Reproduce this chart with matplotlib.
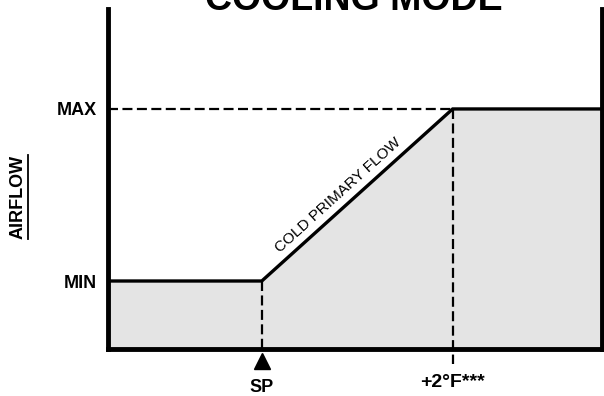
import numpy as np
import matplotlib
matplotlib.use("Agg")
import matplotlib.pyplot as plt
from matplotlib.lines import Line2D

plt.rcParams['font.family'] = ['Liberation Sans', 'DejaVu Sans']

# airflow schedule (percent of axis range)
x_pts = [0, 31.2, 69.8, 100]
airflow = [20, 20, 70.6, 70.6]
min_flow = 20
max_flow = 70.6
sp_x = 31.2
plus2_x = 69.8
ytick_vals = [min_flow, max_flow]
ytick_labels = ['MIN', 'MAX']

fig = plt.figure(figsize=(6.04, 3.96), dpi=100)
ax = fig.add_axes([107.5 / 604, (396 - 349) / 396, 494.5 / 604, 340 / 396])
ax.set_xlim(0, 100)
ax.set_ylim(0, 100)

ax.fill_between(x_pts, airflow, 0, color='#e4e4e4', linewidth=0)
ax.plot(x_pts, airflow, color='black', linewidth=2.4, solid_joinstyle='miter', zorder=3)

# dashed guides
dash = (4.5, 2.0)
ax.plot([0, plus2_x], [max_flow, max_flow], color='black', lw=1.6,
        dashes=dash, zorder=2)
ax.plot([sp_x, sp_x], [min_flow, 0], color='black', lw=1.6,
        dashes=dash, zorder=2)
ax.plot([plus2_x, plus2_x], [max_flow, -4.3], color='black', lw=1.6,
        dashes=dash, zorder=2, clip_on=False)

# SP marker below the axis
ax.plot([sp_x], [-3.6], marker='^', markersize=12, color='black', clip_on=False)

for s in ['left', 'right', 'bottom']:
    ax.spines[s].set_linewidth(3.5)
ax.spines['top'].set_visible(False)

ax.set_xticks([])
ax.set_yticks(ytick_vals, ytick_labels)
ax.tick_params(axis='y', length=0, pad=7.5, labelsize=13)
for t in ax.get_yticklabels():
    t.set_fontweight('bold')

ax.annotate('SP', xy=(sp_x, 0), xycoords=('data', 'axes fraction'),
            xytext=(0, -31), textcoords='offset points', ha='center',
            va='baseline', fontsize=13, fontweight='bold')
ax.annotate('+2°F***', xy=(plus2_x, 0), xycoords=('data', 'axes fraction'),
            xytext=(0, -27.4), textcoords='offset points', ha='center',
            va='baseline', fontsize=14, fontweight='bold')

# label along the ramp, angle taken in screen space
p1 = ax.transData.transform((sp_x, min_flow))
p2 = ax.transData.transform((plus2_x, max_flow))
ang = np.degrees(np.arctan2(p2[1] - p1[1], p2[0] - p1[0]))
frac = 0.446
lx = sp_x + frac * (plus2_x - sp_x)
ly = min_flow + frac * (max_flow - min_flow)
off = 6.3
ax.annotate('COLD PRIMARY FLOW', xy=(lx, ly),
            xytext=(-off * np.sin(np.radians(ang)), off * np.cos(np.radians(ang))),
            textcoords='offset points', ha='center', va='baseline',
            rotation=ang, rotation_mode='anchor', fontsize=11)

fig.text(354 / 604, 386 / 396, 'COOLING MODE', ha='center', va='baseline',
         fontsize=27, fontweight='bold')

ylab = fig.text(18.5 / 604, (396 - 197) / 396, 'AIRFLOW', rotation=90,
                ha='center', va='center', fontsize=13, fontweight='bold')
fig.canvas.draw()
bb = ylab.get_window_extent().transformed(fig.transFigure.inverted())
fig.add_artist(Line2D([bb.x1 + 1 / 604, bb.x1 + 1 / 604], [bb.y0, bb.y1],
                      transform=fig.transFigure, color='black', lw=1.3))

fig.savefig('out.png', dpi=100)
